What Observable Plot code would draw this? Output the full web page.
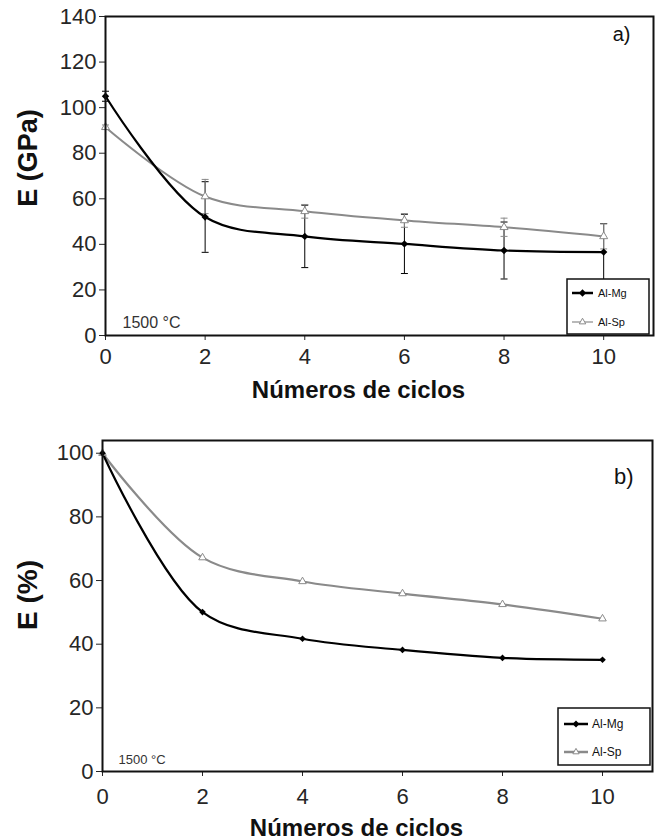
<!DOCTYPE html>
<html>
<head>
<meta charset="utf-8">
<script src="https://cdn.jsdelivr.net/npm/d3@7"></script>
<script src="https://cdn.jsdelivr.net/npm/@observablehq/plot@0.6"></script>
<style>
  body { margin: 0; background: #fff; }
  #chart svg { display: block; }
</style>
</head>
<body>
<div id="chart"></div>
<script>
// ---- data ----
const cycles = [0, 2, 4, 6, 8, 10];
const seriesNames = ["Al-Mg", "Al-Sp"];
// panel a: Young's modulus (GPa) with error bars
const mgModulus = [105, 52, 43.5, 40.2, 37.3, 36.6];
const mgModulusErr = [2.2, 15.5, 13.7, 13, 12.5, 12.5];
const spModulus = [91.4, 61, 54.5, 50.5, 47.5, 43.5];
const spModulusErr = [1, 7.5, 3, 3, 4, 5.5];
// panel b: relative modulus (%)
const mgPercent = [100, 50.1, 41.7, 38.2, 35.7, 35.1];
const spPercent = [100, 67.2, 59.7, 55.9, 52.5, 48];
// ticks and labels
const xTicks = [0, 2, 4, 6, 8, 10];
const yTicksA = [0, 20, 40, 60, 80, 100, 120, 140];
const yTicksB = [0, 20, 40, 60, 80, 100];
const panelLabels = ["a)", "b)"];
const tempLabel = "1500 °C";
const xTitle = "Números de ciclos";
const yTitles = ["E (GPa)", "E (%)"];

// ---- helpers ----
const seriesColor = {"Al-Mg": "#000000", "Al-Sp": "#8a8a8a"};
const rows = (vals, errs) => cycles.map((c, i) => ({cycle: c, value: vals[i], err: errs ? errs[i] : 0}));

const mgA = rows(mgModulus, mgModulusErr);
const spA = rows(spModulus, spModulusErr);
const mgB = rows(mgPercent);
const spB = rows(spPercent);

const FONT = "'Liberation Sans', Arial, Helvetica, sans-serif";

function errorMarks(data, color) {
  const cap = 0.07;
  return [
    Plot.ruleX(data, {x: "cycle", y1: d => d.value - d.err, y2: d => d.value + d.err, stroke: color, strokeWidth: 1}),
    Plot.link(data, {x1: d => d.cycle - cap, x2: d => d.cycle + cap, y1: d => d.value + d.err, y2: d => d.value + d.err, stroke: color, strokeWidth: 1}),
    Plot.link(data, {x1: d => d.cycle - cap, x2: d => d.cycle + cap, y1: d => d.value - d.err, y2: d => d.value - d.err, stroke: color, strokeWidth: 1})
  ];
}

function seriesMarks(mg, sp, opt) {
  return [
    Plot.line(sp, {x: "cycle", y: "value", curve: "catmull-rom", stroke: seriesColor["Al-Sp"], strokeWidth: opt.spWidth}),
    Plot.line(mg, {x: "cycle", y: "value", curve: "catmull-rom", stroke: seriesColor["Al-Mg"], strokeWidth: opt.mgWidth}),
    Plot.dot(sp, {x: "cycle", y: "value", symbol: "triangle2", r: opt.triR, fill: "white", stroke: seriesColor["Al-Sp"], strokeWidth: 1}),
    Plot.dot(mg, {x: "cycle", y: "value", symbol: "diamond2", r: opt.diaR, fill: seriesColor["Al-Mg"], stroke: "none"})
  ];
}

function legendMark(cfg) {
  return (index, scales, values, dims) => {
    const g = d3.create("svg:g");
    const right = dims.width - dims.marginRight;
    const bottom = dims.height - dims.marginBottom;
    const x0 = right - cfg.w - cfg.offR;
    const y0 = bottom - cfg.h - cfg.offB;
    g.append("rect").attr("x", x0).attr("y", y0).attr("width", cfg.w).attr("height", cfg.h)
      .attr("fill", "white").attr("stroke", "#111").attr("stroke-width", 1.5);
    seriesNames.forEach((name, i) => {
      const y = y0 + cfg.rowY[i];
      g.append("line").attr("x1", x0 + cfg.lineX[0]).attr("x2", x0 + cfg.lineX[1])
        .attr("y1", y).attr("y2", y).attr("stroke", seriesColor[name]).attr("stroke-width", cfg.lineW[i]);
      const cx = (cfg.lineX[0] + cfg.lineX[1]) / 2 + x0;
      const sym = i === 0 ? d3.symbolDiamond2 : d3.symbolTriangle2;
      g.append("path").attr("d", d3.symbol(sym, cfg.symSize[i])())
        .attr("transform", `translate(${cx},${y})`)
        .attr("fill", i === 0 ? seriesColor[name] : "white")
        .attr("stroke", i === 0 ? "none" : seriesColor[name]).attr("stroke-width", 1);
      g.append("text").attr("x", x0 + cfg.textX).attr("y", y).attr("dy", "0.35em")
        .attr("text-anchor", "start")
        .attr("font-size", cfg.fontSize).attr("fill", "#111").text(name);
    });
    return g.node();
  };
}

// ---- panel a ----
const plotA = Plot.plot({
  width: 657,
  height: 400,
  marginLeft: 105,
  marginRight: 4,
  marginTop: 16,
  marginBottom: 65,
  style: {fontFamily: FONT, fontSize: "22px", color: "#262626", background: "white", overflow: "visible"},
  x: {domain: [0, 11], ticks: xTicks, tickSize: 5, tickPadding: 8, label: null},
  y: {domain: [0, 140], ticks: yTicksA, tickSize: 6, tickPadding: 3, label: null},
  marks: [
    ...errorMarks(mgA, seriesColor["Al-Mg"]),
    ...errorMarks(spA, seriesColor["Al-Sp"]),
    ...seriesMarks(mgA, spA, {mgWidth: 2.2, spWidth: 2, triR: 3.8, diaR: 3.3}),
    legendMark({w: 82, h: 55, offR: 4, offB: 1, rowY: [14, 43], lineX: [5, 26], lineW: [2.5, 1.2], symSize: [34, 30], textX: 31, fontSize: 11}),
    Plot.frame({stroke: "#111", strokeWidth: 2}),
    Plot.text([panelLabels[0]], {text: d => d, frameAnchor: "top-right", textAnchor: "end", lineAnchor: "top", dx: -23, dy: 10, fontSize: 20, fill: "#111"}),
    Plot.text([tempLabel], {text: d => d, frameAnchor: "bottom-left", textAnchor: "start", lineAnchor: "bottom", dx: 17, dy: -8, fontSize: 16, fill: "#333"}),
    Plot.text([xTitle], {text: d => d, frameAnchor: "bottom", textAnchor: "middle", lineAnchor: "bottom", dx: -21, dy: 62, fontSize: 24, fontWeight: "bold", fill: "#111"}),
    Plot.text([yTitles[0]], {text: d => d, frameAnchor: "left", textAnchor: "middle", lineAnchor: "middle", rotate: -90, dx: -77, dy: -18, fontSize: 27, fontWeight: "bold", fill: "#111"})
  ]
});

// ---- panel b ----
const plotB = Plot.plot({
  width: 657,
  height: 440,
  marginLeft: 102,
  marginRight: 5,
  marginTop: 40,
  marginBottom: 69,
  style: {fontFamily: FONT, fontSize: "22px", color: "#262626", background: "white", overflow: "visible"},
  x: {domain: [0, 11], ticks: xTicks, tickSize: 5, tickPadding: 12, label: null},
  y: {domain: [0, 104], ticks: yTicksB, tickSize: 6, tickPadding: 3, label: null},
  marks: [
    ...seriesMarks(mgB, spB, {mgWidth: 2.2, spWidth: 2.2, triR: 3.6, diaR: 3.0}),
    legendMark({w: 92, h: 57, offR: 2, offB: 6, rowY: [16, 44], lineX: [6, 30], lineW: [2.5, 2.5], symSize: [30, 28], textX: 34, fontSize: 12}),
    Plot.frame({stroke: "#111", strokeWidth: 2}),
    Plot.text([panelLabels[1]], {text: d => d, frameAnchor: "top-right", textAnchor: "end", lineAnchor: "top", dx: -19, dy: 28, fontSize: 22, fill: "#111"}),
    Plot.text([tempLabel], {text: d => d, frameAnchor: "bottom-left", textAnchor: "start", lineAnchor: "bottom", dx: 16, dy: -8, fontSize: 13, fill: "#333"}),
    Plot.text([xTitle], {text: d => d, frameAnchor: "bottom", textAnchor: "middle", lineAnchor: "bottom", dx: -21, dy: 64, fontSize: 24, fontWeight: "bold", fill: "#111"}),
    Plot.text([yTitles[1]], {text: d => d, frameAnchor: "left", textAnchor: "middle", lineAnchor: "middle", rotate: -90, dx: -74, dy: -11, fontSize: 28, fontWeight: "bold", fill: "#111"})
  ]
});

const chart = document.getElementById("chart");
chart.appendChild(plotA);
chart.appendChild(plotB);
</script>
</body>
</html>
